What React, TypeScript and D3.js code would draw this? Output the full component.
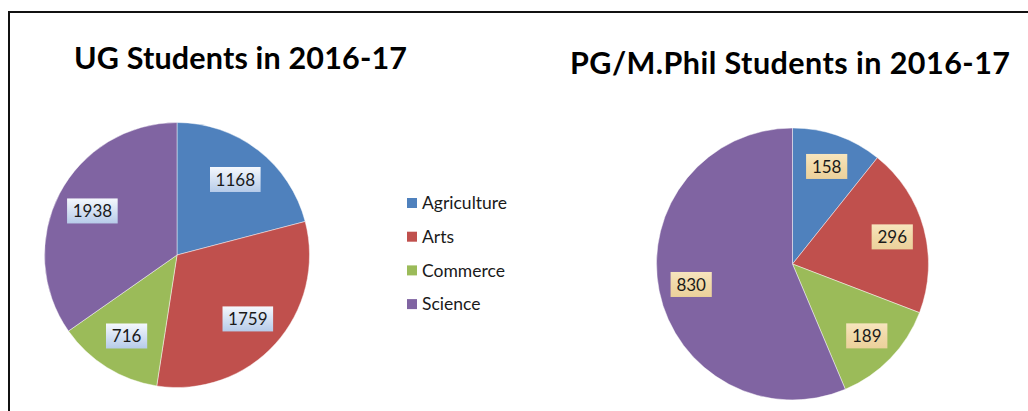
import React from "react";
import * as d3 from "d3";

const width = 1028;
const height = 411;

const categories = ["Agriculture", "Arts", "Commerce", "Science"];
const colors = ["#4f81bd", "#c0504d", "#9bbb59", "#8064a2"];
const ugValues = [1168, 1759, 716, 1938];
const pgValues = [158, 296, 189, 830];

const font = "Lato, 'Liberation Sans', sans-serif";

type PieProps = {
  values: number[];
  cx: number;
  cy: number;
  r: number;
  labelRatio: number;
  fillId: string;
};

const Pie = ({ values, cx, cy, r, labelRatio, fillId }: PieProps) => {
  const pie = d3.pie<number>().sort(null).value(d => d);
  const arcs = pie(values);
  const arc = d3.arc<d3.PieArcDatum<number>>().innerRadius(0).outerRadius(r);
  const labelArc = d3
    .arc<d3.PieArcDatum<number>>()
    .innerRadius(r * labelRatio)
    .outerRadius(r * labelRatio);

  return (
    <g transform={`translate(${cx},${cy})`}>
      {arcs.map((a, i) => (
        <path
          key={i}
          d={arc(a) || ""}
          fill={colors[i]}
          stroke="#ffffff"
          strokeOpacity={0.45}
          strokeWidth={1}
        />
      ))}
      {arcs.map((a, i) => {
        const [x, y] = labelArc.centroid(a);
        const text = String(a.data);
        const w = text.length * 9.4 + 13;
        return (
          <g key={i} transform={`translate(${x},${y})`}>
            <rect
              x={-w / 2}
              y={-12.5}
              width={w}
              height={25}
              fill={`url(#${fillId})`}
            />
            <text
              textAnchor="middle"
              dy="0.36em"
              fontSize={17}
              fontFamily={font}
              fill="#1a1a1a"
            >
              {text}
            </text>
          </g>
        );
      })}
    </g>
  );
};

export default function App() {
  return (
    <svg
      width={width}
      height={height}
      style={{ position: "absolute", left: 0, top: 0, background: "#fff" }}
    >
      <defs>
        <linearGradient id="ugLabel" x1="0" y1="0" x2="0" y2="1">
          <stop offset="0%" stopColor="#f5f8fd" />
          <stop offset="100%" stopColor="#b6cbe9" />
        </linearGradient>
        <linearGradient id="pgLabel" x1="0" y1="0" x2="0" y2="1">
          <stop offset="0%" stopColor="#f7e5be" />
          <stop offset="50%" stopColor="#f1d9a8" />
          <stop offset="100%" stopColor="#ebd19c" />
        </linearGradient>
      </defs>

      <line x1={8} y1={12} x2={width} y2={12} stroke="#111" strokeWidth={2} />
      <line x1={9} y1={12} x2={9} y2={height} stroke="#111" strokeWidth={2} />

      <text
        x={240.5}
        y={69}
        textAnchor="middle"
        fontSize={30.5}
        fontWeight="bold"
        fontFamily={font}
        fill="#000"
        textLength={333}
        lengthAdjust="spacing"
      >
        UG Students in 2016-17
      </text>
      <text
        x={790}
        y={74}
        textAnchor="middle"
        fontSize={30.5}
        fontWeight="bold"
        fontFamily={font}
        fill="#000"
        textLength={440}
        lengthAdjust="spacing"
      >
        PG/M.Phil Students in 2016-17
      </text>

      <Pie values={ugValues} cx={177} cy={255} r={132.5} labelRatio={0.72} fillId="ugLabel" />
      <Pie values={pgValues} cx={792.5} cy={264} r={136} labelRatio={0.76} fillId="pgLabel" />

      <g transform="translate(407,203)">
        {categories.map((c, i) => (
          <g key={c} transform={`translate(0,${i * 33.7})`}>
            <rect x={0} y={-5} width={10} height={10} fill={colors[i]} />
            <text x={15} dy="0.35em" fontSize={17.5} fontFamily={font} fill="#1a1a1a">
              {c}
            </text>
          </g>
        ))}
      </g>
    </svg>
  );
}
